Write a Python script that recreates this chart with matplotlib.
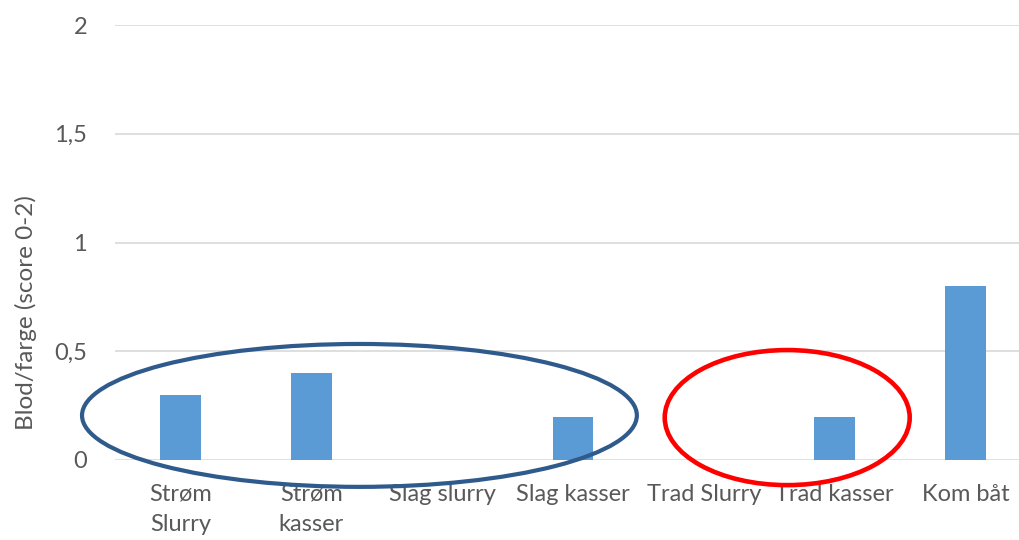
import matplotlib
matplotlib.use("Agg")
import matplotlib.pyplot as plt
from matplotlib.patches import Ellipse
from matplotlib.ticker import FuncFormatter

categories = ["Strøm\nSlurry", "Strøm\nkasser", "Slag slurry", "Slag kasser",
              "Trad Slurry", "Trad kasser", "Kom båt"]
values = [0.3, 0.4, 0.0, 0.2, 0.0, 0.2, 0.8]
yticks = [0, 0.5, 1, 1.5, 2]

plt.rcParams['font.family'] = ['Lato', 'DejaVu Sans']
txt = '#595959'

fig = plt.figure(figsize=(10.19, 5.40), dpi=100)
ax = fig.add_axes([115/1019, 80/540, 916/1019, 435/540])

x = list(range(len(categories)))
ax.bar(x, values, width=0.313, color='#5b9bd5', zorder=3)
ax.set_xlim(-0.5, len(categories) - 0.5)
ax.set_ylim(0, 2)
ax.set_yticks(yticks)
ax.yaxis.set_major_formatter(FuncFormatter(lambda v, p: f"{v:g}".replace('.', ',')))
ax.grid(axis='y', color='#d9d9d9', linewidth=1.2, zorder=0)
for s in ax.spines.values():
    s.set_visible(False)
ax.tick_params(length=0, colors=txt, labelsize=17)
ax.tick_params(axis='y', pad=20)
ax.tick_params(axis='x', pad=17)
ax.set_xticks(x)
ax.set_xticklabels(categories, linespacing=1.55)
ax.set_ylabel("Blod/farge (score 0-2)", color=txt, fontsize=17.5)
ax.yaxis.set_label_coords(-0.085, 0.34)

ax.add_patch(Ellipse((1.368, 0.205), 4.24, 0.657, fill=False,
                     edgecolor='#2f5a8c', linewidth=3.0, clip_on=False, zorder=5))
ax.add_patch(Ellipse((4.637, 0.195), 1.872, 0.621, fill=False,
                     edgecolor='#ff0000', linewidth=3.3, clip_on=False, zorder=5))

fig.savefig("out.png", dpi=100)
